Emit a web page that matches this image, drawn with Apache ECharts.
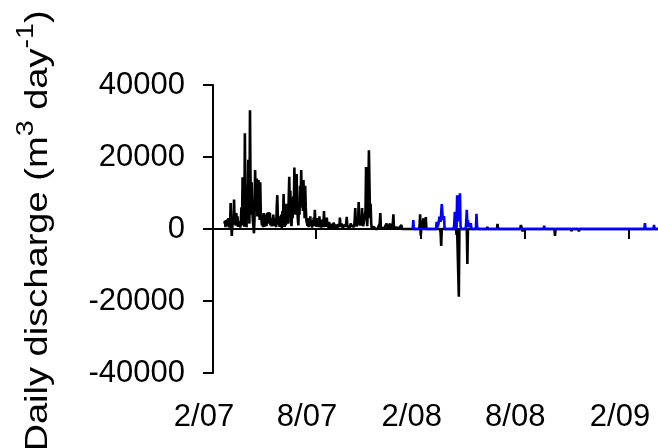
<!DOCTYPE html>
<html lang="en">
<head>
    <meta charset="UTF-8">
    <title>Daily discharge</title>
    <script src="https://cdn.jsdelivr.net/npm/echarts@6/dist/echarts.min.js"></script>
    <style>
        html, body { margin: 0; padding: 0; background: #fff; }
        #chart { width: 658px; height: 448px; }
    </style>
</head>
<body>
    <div id="chart"></div>
    <script>
        // days counted from 1 Feb 2007
        var blackDays = [20,21,22,23,24,25,26,27,28,29,30,31,32,33,34,35,36,37,38,39,40,41,42,43,44,45,46,47,48,49,
            50,51,52,53,54,55,56,57,58,59,60,61,62,63,64,65,66,67,68,69,70,71,72,73,74,75,76,77,78,79,
            80,81,82,83,84,85,86,87,88,89,90,91,92,93,94,95,96,97,98,99,100,101,102,103,104,105,106,107,108,109,
            110,111,112,113,114,115,116,117,118,119,120,121,122,123,124,125,126,127,128,129,130,131,132,133,134,135,136,137,138,139,
            140,141,142,143,144,145,146,147,148,149,150,151,152,153,154,155,156,157,158,159,160,161,162,163,164,165,166,167,168,169,
            170,171,172,173,174,175,176,177,178,179,180,181,182,183,184,185,186,187,188,189,190,191,192,193,194,195,196,197,198,199,
            200,201,202,203,204,205,206,208,209,211,212,214,216,218,220,222,223,224,226,228,230,232,234,235,236,238,240,242,244,246,
            248,249,250,251,253,255,256,257,259,261,262,263,264,266,267,268,269,270,271,272,273,274,275,276,277,278,279,281,283,285,
            287,289,292,293,294,295,296,298,300,303,305,306,307,309,311,312,315,316,317,318,320,322,324,327,329,331,332,340,352,362,
            363,364,365,366,369,370,371,373,374,375,385,399,400,401,402,427,428,429,431,432,433,446,447,448,481,482,483,499,500,501,
            540,541,543,544,545,600,601,602,629,630,631,642,643,644,782];
        var blackValues = [1500,2200,500,2500,800,2600,1200,3000,400,2000,1000,7200,1500,-1900,800,3000,1200,8200,2000,4500,
            900,4400,1500,3500,600,2200,800,1500,400,2500,
            6000,1000,14400,3000,9000,600,26600,8000,2000,500,12000,4000,19200,9000,1500,33000,12000,4000,13000,6000,
            2500,700,-1200,3000,16400,9000,5000,14000,3500,8000,
            13600,6000,2500,13000,4000,3000,1000,2500,500,4400,600,3800,1500,4000,800,4500,1500,3000,4700,1800,
            4500,1000,3000,700,2800,1200,4000,800,2500,1500,
            3000,500,6000,9400,3000,1200,2500,600,3500,1000,4000,300,5000,2000,9700,3500,600,4000,1000,7000,
            2500,5000,1500,8000,14500,6000,10600,2000,800,6000,
            3000,9000,5000,17100,8000,4000,11000,15300,6000,3000,1000,7000,4000,12000,6000,16400,9000,11000,5000,13600,
            8000,3000,12000,6000,2500,2400,900,3000,500,2000,
            1200,3500,800,2500,400,2000,1000,3200,800,5300,1000,2500,600,3000,1200,2000,500,3500,900,2000,
            400,2600,1000,1800,500,5000,1200,2500,600,1800,
            3200,800,1500,300,2000,600,1200,200,1500,300,1800,400,1200,100,1400,500,3200,800,1500,300,
            1200,600,1500,3400,800,1000,400,1500,800,1200,
            600,2500,5800,1500,800,2000,7500,2500,1000,2000,5800,1500,800,300,1000,5000,17200,4000,800,1200,
            10000,21900,12000,3000,7000,1500,200,0,600,0,
            300,0,0,1500,4400,500,0,800,0,400,1500,1300,0,200,1500,0,300,1500,4100,200,
            0,400,0,200,300,1100,0,0,0,0,
            800,4100,-1900,0,0,3000,200,1000,3300,0,0,0,-1000,-4700,0,0,-1600,0,0,-18800,
            0,0,-9700,0,0,600,0,0,1400,0,
            0,1100,0,-700,0,0,-1900,0,0,-600,0,0,-700,0,0];

        var blueDays = [351,352,353,392,393,394,396,398,400,402,404,406,407,423,424,425,426,428,429,430,
            431,433,434,435,436,444,445,446,447,448,449,450,452,453,454,462,463,464,465,581,
            582,583,758,759,760,774,775,776,782];
        var blueValues = [0,2500,0,0,2000,500,1200,3400,2000,6900,2500,3600,0,0,1500,4800,1000,0,9400,2000,
            5000,8000,9900,1000,0,0,2000,5300,1000,2400,500,1600,600,1600,0,0,4200,800,0,0,
            900,0,0,1600,0,0,1100,0,0];

        var majorTicks = [[2007, 1], [2007, 7], [2008, 1], [2008, 7], [2009, 1]];
        var gapTicks = [[2007, 3], [2007, 5], [2007, 9], [2007, 11], [2008, 3], [2008, 5], [2008, 9], [2008, 11]];
        var yTicks = [-40000, -20000, 0, 20000, 40000];

        var DAY = 86400000;
        var base = Date.UTC(2007, 1, 1);
        var xMax = base + 782 * DAY;

        function pairs(days, values) {
            return days.map(function (d, i) { return [base + d * DAY, values[i]]; });
        }
        function toTime(list) {
            return list.map(function (m) { return Date.UTC(m[0], m[1], 1); });
        }

        var font = '"Liberation Sans", Arial, sans-serif';
        var chart = echarts.init(document.getElementById('chart'));

        var option = {
            animation: false,
            backgroundColor: '#fff',
            grid: { left: 213, right: 0, top: 85, bottom: 75, containLabel: false },
            xAxis: [
                {
                    type: 'value',
                    min: base,
                    max: xMax,
                    splitLine: { show: false },
                    axisLine: { lineStyle: { color: '#000', width: 2 } },
                    axisTick: { customValues: toTime(majorTicks), length: 10, lineStyle: { color: '#000', width: 2 } },
                    axisLabel: {
                        customValues: toTime(majorTicks),
                        margin: 29,
                        padding: [0, 18, 0, 0],
                        color: '#000',
                        fontSize: 31,
                        fontFamily: font,
                        formatter: function (v) {
                            var d = new Date(v);
                            return (d.getUTCMonth() + 1) + '/' + String(d.getUTCFullYear()).slice(2);
                        }
                    }
                },
                {
                    // small breaks in the axis line at the two-month marks
                    type: 'value',
                    min: base,
                    max: xMax,
                    position: 'bottom',
                    offset: -3,
                    z: 5,
                    splitLine: { show: false },
                    axisLine: { show: false },
                    axisTick: { customValues: toTime(gapTicks), length: 6, lineStyle: { color: '#fff', width: 2 } },
                    axisLabel: { show: false }
                }
            ],
            yAxis: {
                type: 'value',
                min: yTicks[0],
                max: yTicks[yTicks.length - 1],
                interval: 20000,
                splitLine: { show: false },
                axisLine: { lineStyle: { color: '#000', width: 2 } },
                axisTick: { length: 10, lineStyle: { color: '#000', width: 2 } },
                axisLabel: {
                    margin: 28, color: '#000', fontSize: 31, fontFamily: font,
                    formatter: function (v) { return String(v); }
                }
            },
            graphic: [
                {
                    type: 'text',
                    x: 62,
                    y: 231,
                    rotation: Math.PI / 2,
                    scaleX: 1.19,
                    style: {
                        text: 'Daily discharge (m{sup|3} day{sup|-1})',
                        fill: '#000',
                        fontSize: 32,
                        fontFamily: font,
                        align: 'center',
                        verticalAlign: 'bottom',
                        rich: {
                            sup: { fontSize: 24, fontFamily: font, fill: '#000', padding: [0, 0, 24, 0], verticalAlign: 'bottom' }
                        }
                    }
                }
            ],
            series: [
                {
                    type: 'line',
                    data: pairs(blackDays, blackValues),
                    showSymbol: false,
                    lineStyle: { color: '#000', width: 2.6 },
                    z: 2
                },
                {
                    type: 'line',
                    data: pairs(blueDays, blueValues),
                    showSymbol: false,
                    lineStyle: { color: '#0000ff', width: 2.6 },
                    z: 3
                }
            ]
        };

        chart.setOption(option);
    </script>
</body>
</html>
